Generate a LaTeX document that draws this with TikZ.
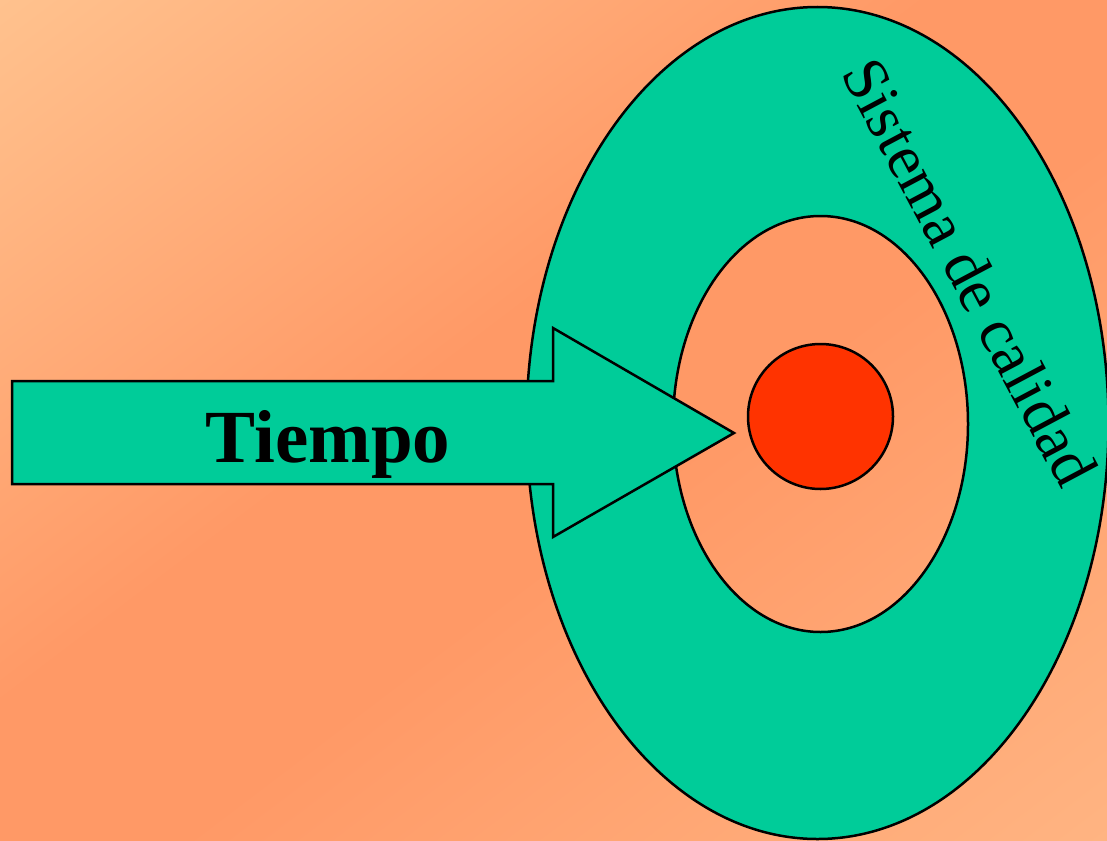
\documentclass[tikz,border=0pt]{standalone}
\usepackage{fontspec}
\setmainfont{Liberation Serif}
\definecolor{bgLight}{HTML}{FFC28E}
\definecolor{bgDark}{HTML}{FF9966}
\definecolor{bgEnd}{HTML}{FFB482}
\definecolor{ringGreen}{HTML}{00CC99}
\definecolor{coreRed}{HTML}{FF3300}
% light corner -> broad dark band -> lighter far corner
\pgfdeclarehorizontalshading{slidebg}{100bp}{%
  color(0bp)=(bgLight); color(25bp)=(bgLight);
  color(46bp)=(bgDark); color(54bp)=(bgDark);
  color(75bp)=(bgEnd); color(100bp)=(bgEnd)}
\begin{document}
\begin{tikzpicture}[x=1pt,y=-1pt,
  outline/.style={draw=black,line width=2.5pt,line join=miter},
  ringshape/.style={outline,fill=ringGreen,even odd rule},
  arrowshape/.style={outline,fill=ringGreen},
  coreshape/.style={outline,fill=coreRed},
  bigtitle/.style={font=\fontsize{75}{78}\selectfont\bfseries,inner sep=0pt},
  ringlabel/.style={font=\fontsize{63}{66}\selectfont,inner sep=0pt}]
\useasboundingbox (0,0) rectangle (1107,840);

% diagonal background gradient
\begin{scope}
  \clip (0,0) rectangle (1107,840);
  \begin{scope}[transform canvas={shift={(553.5,420)},rotate=-52.8}]
    \shade[shading=slidebg] (-670,-900) rectangle (670,900);
  \end{scope}
\end{scope}

% quality ring (outer ellipse with the inner one cut out)
\path[ringshape]
  (817.5,423) ellipse [x radius=291,y radius=416]
  (820.5,424) ellipse [x radius=147.5,y radius=208];
\node (ring) at (817.5,423) {};
\node (inner) at (820.5,424) {};

% core
\node[coreshape,circle,minimum size=145pt,inner sep=0pt] (core) at (820.5,416.5) {};

% time arrow
\draw[arrowshape] (12,381) -- (553,381) -- (553,328) -- (734,433)
  -- (553,537) -- (553,484) -- (12,484) -- cycle;
\coordinate (tip) at (734,433);

\node[bigtitle,anchor=base] (tiempo) at (328,462) {Tiempo};
\node[ringlabel,rotate=-62] (sistema) at (970,272) {Sistema de calidad};
\end{tikzpicture}
\end{document}
